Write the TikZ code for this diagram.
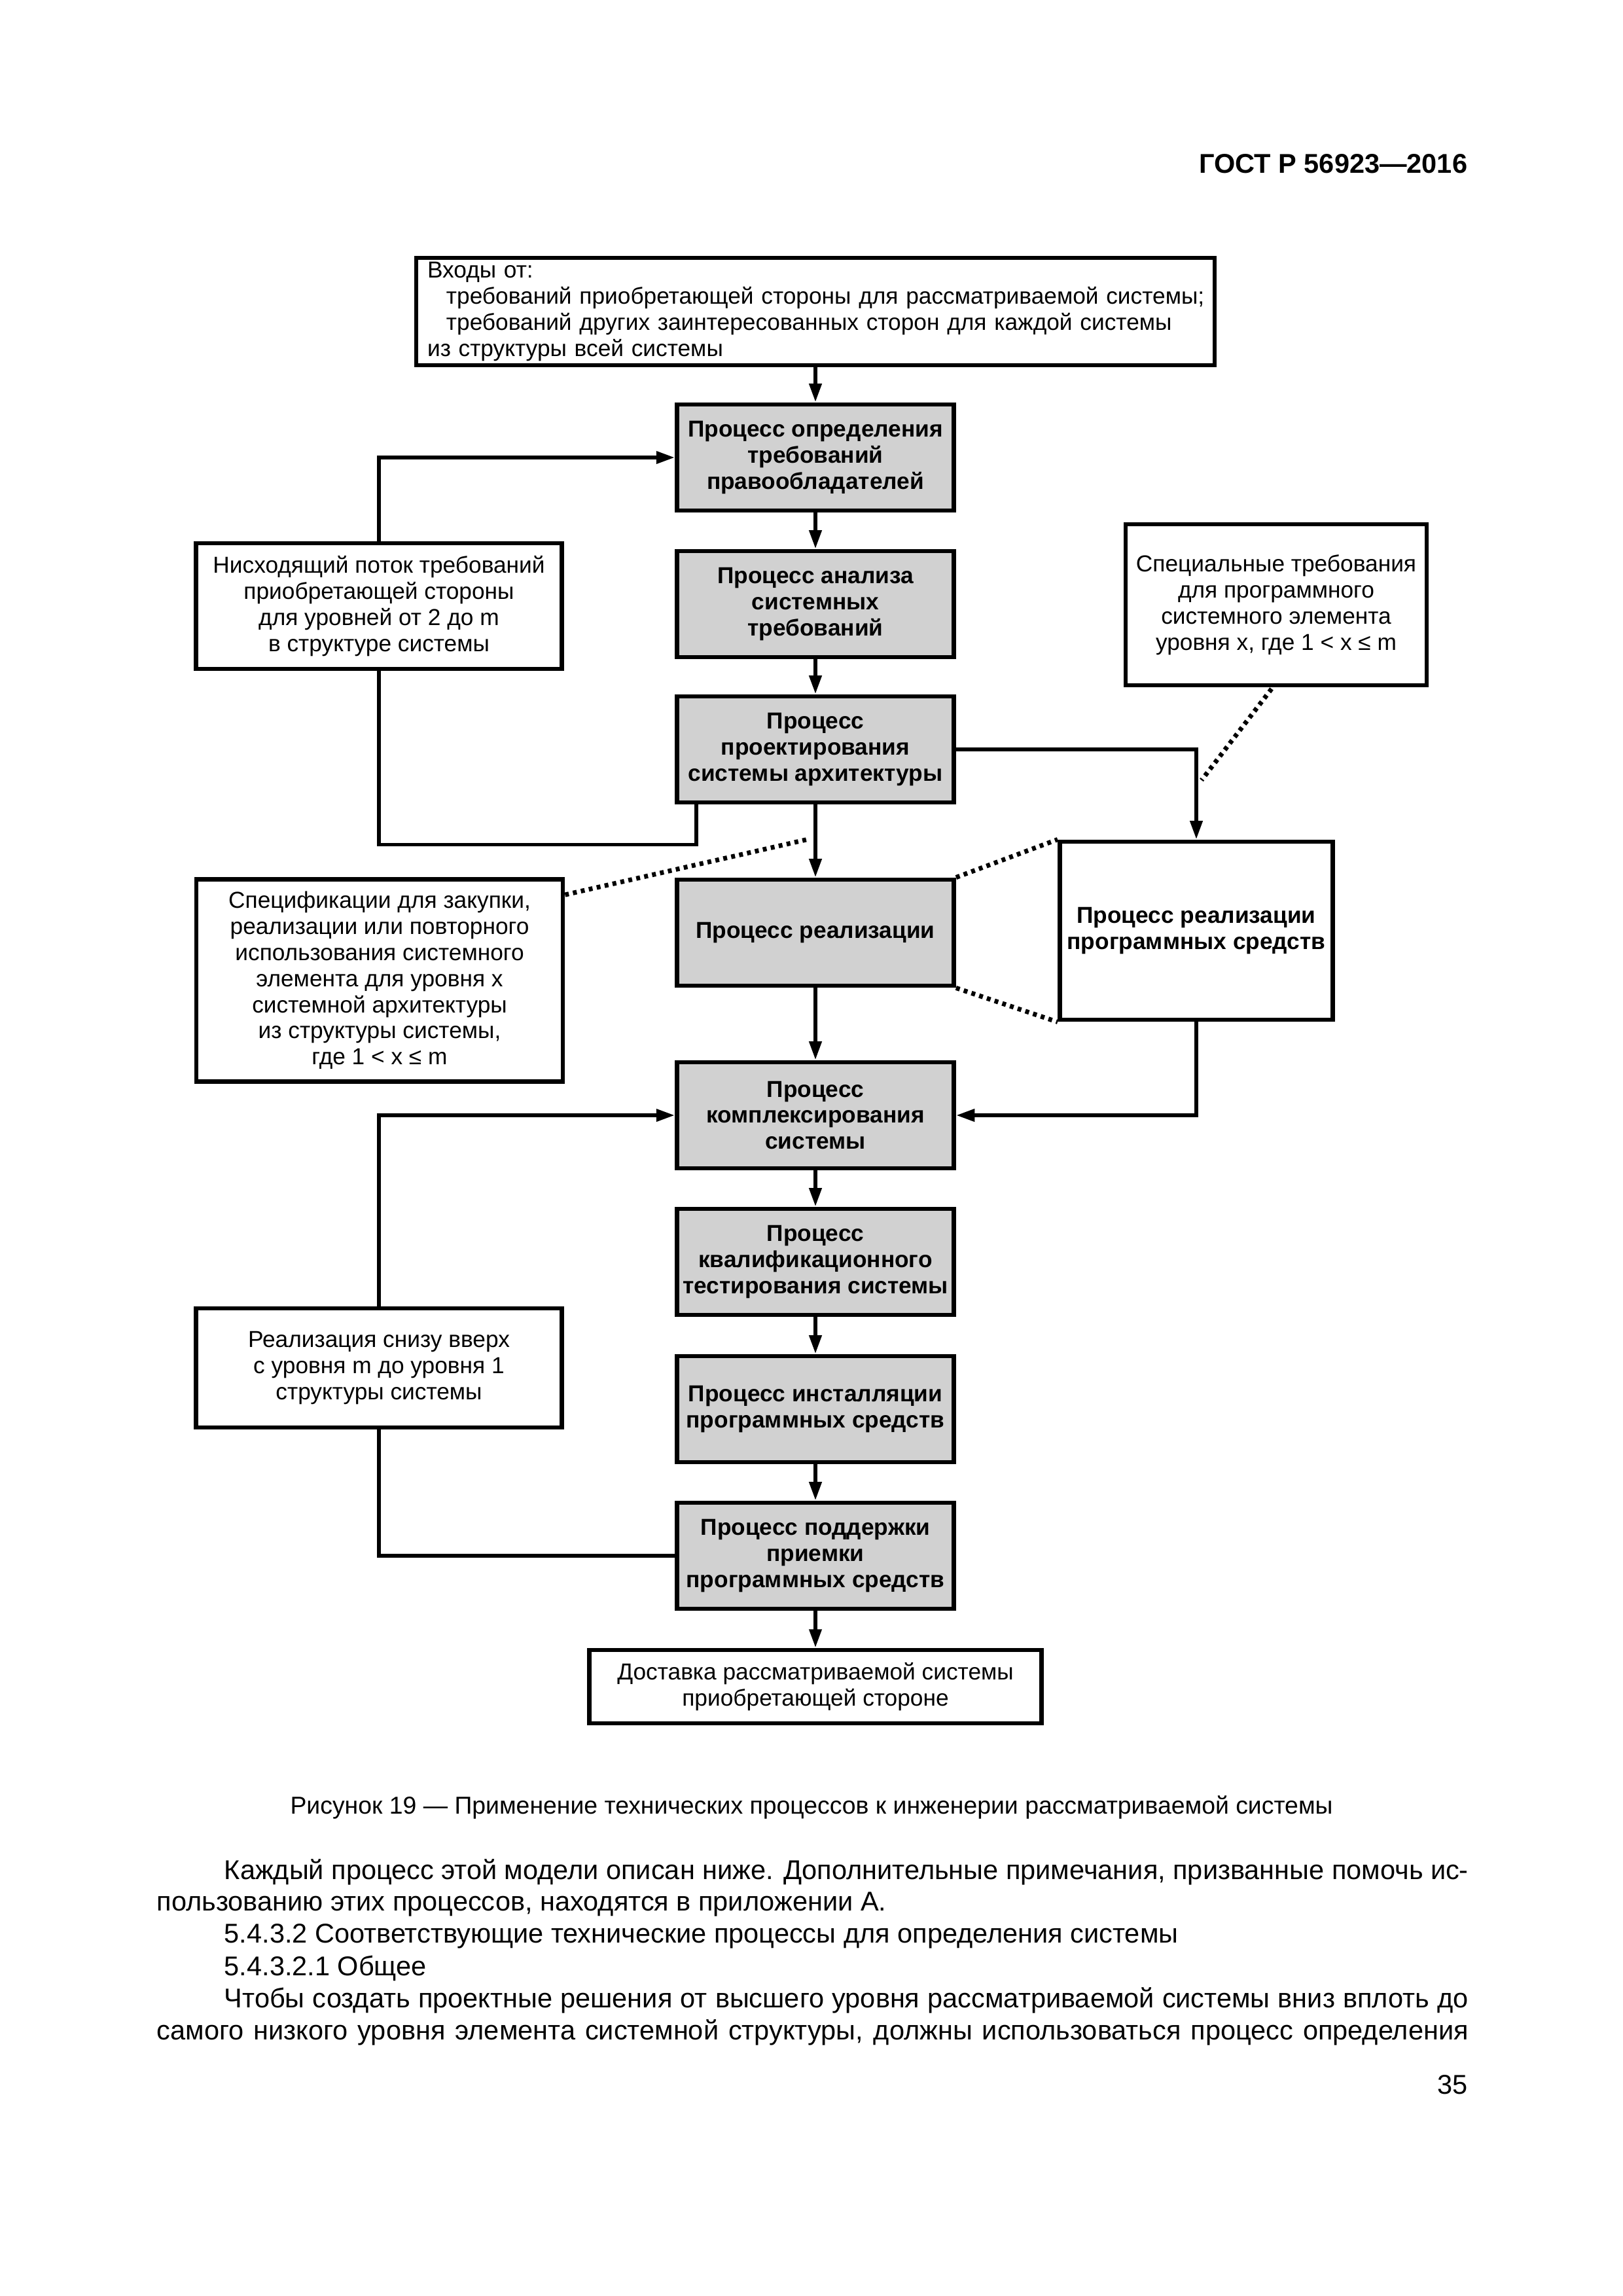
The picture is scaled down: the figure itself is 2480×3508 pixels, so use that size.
\documentclass[tikz,border=0pt]{standalone}
\usepackage{fontspec}
\setmainfont{Liberation Sans}
\usetikzlibrary{arrows.meta,calc}
\begin{document}
\begin{tikzpicture}[x=0.0846667mm,y=-0.0846667mm,
  box/.style={draw, line width=0.58mm, align=center, inner sep=0pt, font=\fontsize{8.5}{9.6}\selectfont},
  proc/.style={box, fill=black!18, font=\fontsize{8.5}{9.6}\selectfont\bfseries, minimum width=35.81mm, minimum height=13.72mm},
  conn/.style={line width=0.5mm},
  arr/.style={conn, -{Triangle[length=2.4mm,width=1.55mm]}},
  dotl/.style={line width=0.6mm, dash pattern=on 0.5mm off 0.55mm},
  body/.style={anchor=west, inner sep=0pt, font=\fontsize{10}{11.7}\selectfont}
]
\fill[white] (0,0) rectangle (2480,3508);
\useasboundingbox (0,0) rectangle (2480,3508);

% header
\node[anchor=east, inner sep=0pt, font=\fontsize{10}{12}\selectfont\bfseries] (hdr) at (2243,250) {ГОСТ Р 56923—2016};

% top input box
\node[box, align=left, text width=100.41mm, inner xsep=1.44mm, minimum height=13.89mm] (inp) at (1246,476)
 {Входы от:\\
  \mbox{\hspace*{2.45mm}требований приобретающей стороны для рассматриваемой системы;}\\
  \mbox{\hspace*{2.45mm}требований других заинтересованных сторон для каждой системы}\\
  из структуры всей системы};

% process column
\node[proc] (P1) at (1246,699) {Процесс определения\\требований\\правообладателей};
\node[proc] (P2) at (1246,923) {Процесс анализа\\системных\\требований};
\node[proc] (P3) at (1246,1145) {Процесс\\проектирования\\системы архитектуры};
\node[proc] (P4) at (1246,1425) {Процесс реализации};
\node[proc] (P5) at (1246,1704) {Процесс\\комплексирования\\системы};
\node[proc] (P6) at (1246,1928) {Процесс\\квалификационного\\тестирования системы};
\node[proc] (P7) at (1246,2153) {Процесс инсталляции\\программных средств};
\node[proc] (P8) at (1246,2377) {Процесс поддержки\\приемки\\программных средств};
\node[box, minimum width=58.50mm, minimum height=9.48mm] (del) at (1246,2577) {Доставка рассматриваемой системы\\приобретающей стороне};

% right side
\node[box, minimum width=38.95mm, minimum height=20.83mm] (spec) at (1950,924) {Специальные требования\\для программного\\системного элемента\\уровня x, где 1 < x ≤ m};
\node[box, font=\fontsize{8.5}{9.6}\selectfont\bfseries, minimum width=35.31mm, minimum height=23.03mm] (SW) at (1828,1422) {Процесс реализации\\программных средств};

% left side
\node[box, minimum width=47.33mm, minimum height=16.26mm] (L1) at (579,926) {Нисходящий поток требований\\приобретающей стороны\\для уровней от 2 до m\\в структуре системы};
\node[box, minimum width=47.41mm, minimum height=26.16mm] (L2) at (580,1498) {Спецификации для закупки,\\реализации или повторного\\использования системного\\элемента для уровня x\\системной архитектуры\\из структуры системы,\\где 1 < x ≤ m};
\node[box, minimum width=47.33mm, minimum height=15.41mm] (L3) at (579,2090) {Реализация снизу вверх\\с уровня m до уровня 1\\структуры системы};

% main vertical arrows
\draw[arr] (inp) -- (P1);
\draw[arr] (P1) -- (P2);
\draw[arr] (P2) -- (P3);
\draw[arr] (P3) -- (P4);
\draw[arr] (P4) -- (P5);
\draw[arr] (P5) -- (P6);
\draw[arr] (P6) -- (P7);
\draw[arr] (P7) -- (P8);
\draw[arr] (P8) -- (del);

% left loops
\draw[conn] ($(P3.south west)+(33,0)$) -- ++(0,61) -| (L1.south);
\draw[arr] (L1.north) |- (P1.west);
\draw[conn] (P8.west) -| (L3.south);
\draw[arr] (L3.north) |- (P5.west);

% right connectors
\draw[arr] (P3.east) -| (SW.north);
\draw[arr] (SW.south) |- (P5.east);

% dotted lines
\coordinate (d1) at (1836,1192);
\coordinate (d2) at (1236,1282);
\draw[dotl] ($(spec.south)+(-7,2)$) -- (d1);
\draw[dotl] ($(L2.north east)+(0,27)$) -- (d2);
\draw[dotl] (P4.north east) -- (SW.north west);
\draw[dotl] (P4.south east) -- (SW.south west);

% caption
\node[inner sep=0pt, font=\fontsize{9}{11}\selectfont] (cap) at (1240,2761) {Рисунок 19 — Применение технических процессов к инженерии рассматриваемой системы};

% body text
\node[body] (b1) at (342,2860) {\makebox[160.95mm][s]{Каждый процесс этой модели описан ниже. Дополнительные примечания, призванные помочь ис-}};
\node[body] (b2) at (239,2909) {пользованию этих процессов, находятся в приложении А.};
\node[body] (b3) at (342,2958) {5.4.3.2 Соответствующие технические процессы для определения системы};
\node[body] (b4) at (342,3007) {5.4.3.2.1 Общее};
\node[body] (b5) at (342,3056) {\makebox[160.95mm][s]{Чтобы создать проектные решения от высшего уровня рассматриваемой системы вниз вплоть до}};
\node[body] (b6) at (239,3105) {\makebox[169.67mm][s]{самого низкого уровня элемента системной структуры, должны использоваться процесс определения}};

% page number
\node[anchor=east, inner sep=0pt, font=\fontsize{10}{12}\selectfont] (pg) at (2243,3185) {35};
\end{tikzpicture}
\end{document}
